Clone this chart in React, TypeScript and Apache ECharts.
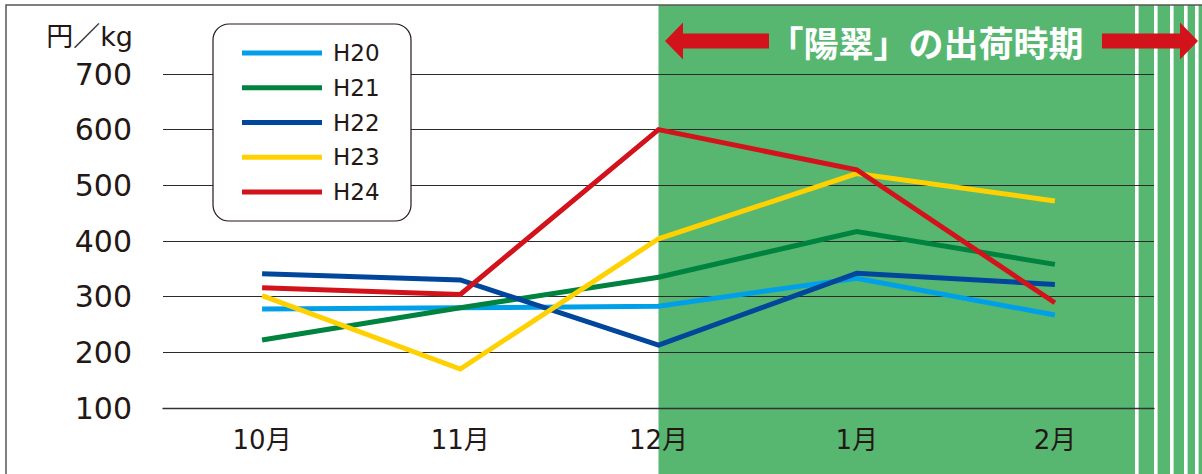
import React, { useEffect, useRef } from "react";
import * as echarts from "echarts";

const months = ["10月", "11月", "12月", "1月", "2月"];
const seriesNames = ["H20", "H21", "H22", "H23", "H24"];
const h20 = [278, 280, 283, 333, 267];
const h21 = [222, 280, 335, 417, 358];
const h22 = [341, 330, 213, 342, 322];
const h23 = [302, 170, 404, 521, 472];
const h24 = [316, 304, 600, 528, 289];
const seriesValues = [h20, h21, h22, h23, h24];
const seriesColors = ["#00a0e9", "#00833e", "#00469b", "#ffd100", "#d2131b"];
const yTicks = { min: 100, max: 700, interval: 100 };
const unitLabel = "円／kg";
const bandTitle = "「陽翠」の出荷時期";
const bandStartMonth = "12月";

const TEXT = "#231815";
const GREEN = "#57b771";
const LATIN = "'DejaVu Sans', 'Noto Sans CJK JP', sans-serif";

export default function App() {
  const ref = useRef<HTMLDivElement>(null);
  useEffect(() => {
    document.body.style.margin = "0";
    const chart = echarts.init(ref.current!, null, { renderer: "svg" });
    const option: any = {
      animation: false,
      backgroundColor: "#ffffff",
      grid: { left: 163, right: 48, top: 74, bottom: 66 },
      legend: {
        left: 242,
        top: 41.5,
        padding: 0,
        orient: "vertical",
        icon: "rect",
        itemWidth: 80,
        itemHeight: 5,
        itemGap: 11.75,
        selectedMode: false,
        textStyle: {
          color: TEXT,
          fontFamily: LATIN,
          fontSize: 23,
          lineHeight: 23,
          padding: [0, 0, 0, 6],
        },
        data: seriesNames,
      },
      xAxis: {
        type: "category",
        data: months,
        boundaryGap: true,
        axisLine: { lineStyle: { color: "#333333", width: 1.3 } },
        axisTick: { length: 17, interval: 0, lineStyle: { color: "#333333", width: 1.3 } },
        axisLabel: { color: TEXT, fontFamily: LATIN, fontSize: 26, margin: 19, interval: 0 },
        splitLine: { show: false },
      },
      yAxis: {
        type: "value",
        min: yTicks.min,
        max: yTicks.max,
        interval: yTicks.interval,
        axisLine: { show: false },
        axisTick: { show: false },
        axisLabel: { color: TEXT, fontFamily: LATIN, fontSize: 30, margin: 31 },
        splitLine: { lineStyle: { color: "#2b2b2b", width: 1.2 } },
      },
      series: seriesNames.map((n, i) => ({
        name: n,
        type: "line",
        data: seriesValues[i],
        showSymbol: false,
        symbol: "none",
        color: seriesColors[i],
        lineStyle: { color: seriesColors[i], width: 5, join: "miter" },
        z: 2 + i,
      })),
    };
    chart.setOption(option);
    const x0 = chart.convertToPixel({ xAxisIndex: 0 }, bandStartMonth) as number;
    const stripes = [1135, 1154, 1170, 1184, 1195];
    const arrowY = 41;
    chart.setOption({
      graphic: [
        {
          type: "rect",
          z: -10,
          shape: { x: x0, y: 5, width: 1202 - x0, height: 474 },
          style: { fill: GREEN },
          silent: true,
        },
        ...stripes.map((sx) => ({
          type: "rect",
          z: -9,
          shape: { x: sx, y: 5, width: 3.6, height: 474 },
          style: { fill: "#ffffff" },
          silent: true,
        })),
        {
          type: "rect",
          z: 3,
          shape: { x: 213, y: 24, width: 198, height: 197, r: 16 },
          style: { fill: "#ffffff", stroke: TEXT, lineWidth: 1.2 },
          silent: true,
        },
        {
          type: "polygon",
          z: 20,
          shape: {
            points: [
              [665, arrowY],
              [683, arrowY - 18.5],
              [683, arrowY - 7.5],
              [769, arrowY - 7.5],
              [769, arrowY + 7.5],
              [683, arrowY + 7.5],
              [683, arrowY + 18.5],
            ],
          },
          style: { fill: "#d2131b" },
          silent: true,
        },
        {
          type: "polygon",
          z: 20,
          shape: {
            points: [
              [1198, arrowY],
              [1180, arrowY - 18.5],
              [1180, arrowY - 7.5],
              [1102, arrowY - 7.5],
              [1102, arrowY + 7.5],
              [1180, arrowY + 7.5],
              [1180, arrowY + 18.5],
            ],
          },
          style: { fill: "#d2131b" },
          silent: true,
        },
        {
          type: "text",
          z: 20,
          x: 926,
          y: arrowY,
          style: {
            text: bandTitle,
            fill: "#ffffff",
            fontFamily: "'Noto Sans CJK JP', sans-serif",
            fontWeight: "bold",
            fontSize: 35,
            align: "center",
            verticalAlign: "middle",
          },
          silent: true,
        },
        {
          type: "text",
          z: 20,
          x: 133,
          y: 36,
          style: {
            text: unitLabel,
            fill: TEXT,
            fontFamily: LATIN,
            fontSize: 27,
            align: "right",
            verticalAlign: "middle",
          },
          silent: true,
        },
        {
          type: "polyline",
          z: 30,
          shape: { points: [[6, 480], [6, 5], [1210, 5]] },
          style: { stroke: "#555555", lineWidth: 1.5, fill: null },
          silent: true,
        },
      ],
    });
    return () => chart.dispose();
  }, []);
  return <div ref={ref} style={{ width: 1202, height: 474 }} />;
}
